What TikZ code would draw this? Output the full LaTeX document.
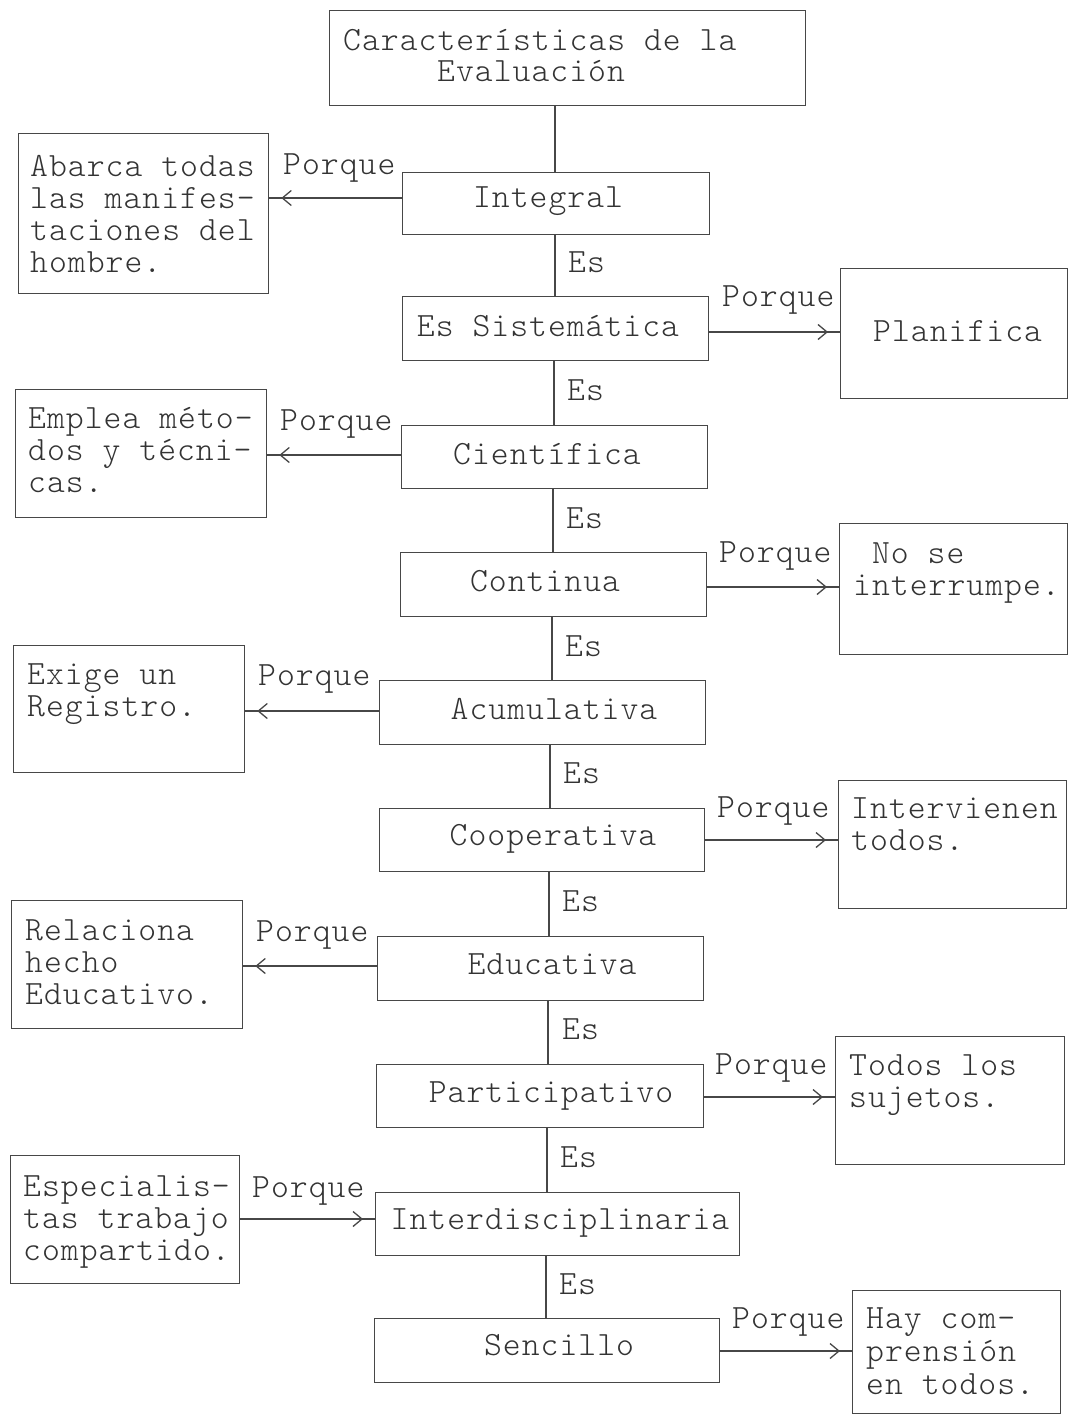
\documentclass[tikz,border=0pt]{standalone}
\usepackage{fontspec}
\newfontfamily\mono{lmmonolt10-regular.otf}[LetterSpace=3]
\usetikzlibrary{arrows.meta,decorations.markings}
\tikzset{
  box/.style={draw=black!72, line width=1.3pt, inner sep=0pt, anchor=north west},
  txt/.style={font=\mono\fontsize{34}{32}\selectfont, text=black!80, inner sep=0pt, anchor=base west},
  ctxt/.style={font=\mono\fontsize{34}{32}\selectfont, text=black!80, inner sep=0pt, anchor=base},
  link/.style={draw=black!72, line width=1.2pt},
  arr/.style={link, postaction={decorate},
    decoration={markings, mark=at position -12pt with {\arrow[black!72]{Straight Barb[length=9pt,width=15pt,line width=1.3pt]}}}}
}
\begin{document}
\begin{tikzpicture}[x=1pt,y=-1pt]
\useasboundingbox (0,0) rectangle (1068,1416);
\fill[white] (0,0) rectangle (1068,1416);

% ---------- title ----------
\node[box, minimum width=476pt, minimum height=95pt] (T) at (329,10) {};
\node[txt] (Ta) at (343,50) {Características de la};
\node[txt] (Tb) at (437,81) {Evaluación};

% ---------- central boxes ----------
\node[box, minimum width=307pt, minimum height=62pt] (C1) at (402,172) {};
\node[ctxt] (C1t) at (548,207) {Integral};
\node[box, minimum width=306pt, minimum height=64pt] (C2) at (402,296) {};
\node[ctxt] (C2t) at (548,336) {Es Sistemática};
\node[box, minimum width=306pt, minimum height=63pt] (C3) at (401,425) {};
\node[ctxt] (C3t) at (547,464) {Científica};
\node[box, minimum width=306pt, minimum height=64pt] (C4) at (400,552) {};
\node[ctxt] (C4t) at (545,591) {Continua};
\node[box, minimum width=326pt, minimum height=64pt] (C5) at (379,680) {};
\node[ctxt] (C5t) at (554,719) {Acumulativa};
\node[box, minimum width=325pt, minimum height=63pt] (C6) at (379,808) {};
\node[ctxt] (C6t) at (553,845) {Cooperativa};
\node[box, minimum width=326pt, minimum height=64pt] (C7) at (377,936) {};
\node[ctxt] (C7t) at (552,974) {Educativa};
\node[box, minimum width=327pt, minimum height=63pt] (C8) at (376,1064) {};
\node[ctxt] (C8t) at (551,1102) {Participativo};
\node[box, minimum width=364pt, minimum height=63pt] (C9) at (375,1192) {};
\node[ctxt] (C9t) at (560,1229) {Interdisciplinaria};
\node[box, minimum width=345pt, minimum height=64pt] (C10) at (374,1318) {};
\node[ctxt] (C10t) at (559,1355) {Sencillo};

% ---------- left boxes ----------
\node[box, minimum width=250pt, minimum height=160pt] (L1) at (18,133) {};
\node[txt] (L1a) at (30,176) {Abarca todas};
\node[txt] (L1b) at (30,208) {las manifes-};
\node[txt] (L1c) at (30,240) {taciones del};
\node[txt] (L1d) at (30,272) {hombre.};

\node[box, minimum width=251pt, minimum height=128pt] (L3) at (15,389) {};
\node[txt] (L3a) at (28,428) {Emplea méto-};
\node[txt] (L3b) at (28,460) {dos y técni-};
\node[txt] (L3c) at (28,492) {cas.};

\node[box, minimum width=231pt, minimum height=127pt] (L5) at (13,645) {};
\node[txt] (L5a) at (27,684) {Exige un};
\node[txt] (L5b) at (27,716) {Registro.};

\node[box, minimum width=231pt, minimum height=128pt] (L7) at (11,900) {};
\node[txt] (L7a) at (25,940) {Relaciona};
\node[txt] (L7b) at (25,972) {hecho};
\node[txt] (L7c) at (25,1004) {Educativo.};

\node[box, minimum width=229pt, minimum height=128pt] (L9) at (10,1155) {};
\node[txt] (L9a) at (23,1196) {Especialis-};
\node[txt] (L9b) at (23,1228) {tas trabajo};
\node[txt] (L9c) at (23,1260) {compartido.};

% ---------- right boxes ----------
\node[box, minimum width=227pt, minimum height=130pt] (R2) at (840,268) {};
\node[txt] (R2a) at (873,341) {Planifica};

\node[box, minimum width=228pt, minimum height=131pt] (R4) at (839,523) {};
\node[txt] (R4a) at (853,563) {\ No se};
\node[txt] (R4b) at (853,595) {interrumpe.};

\node[box, minimum width=228pt, minimum height=128pt] (R6) at (838,780) {};
\node[txt] (R6a) at (851,818) {Intervienen};
\node[txt] (R6b) at (851,850) {todos.};

\node[box, minimum width=229pt, minimum height=128pt] (R8) at (835,1036) {};
\node[txt] (R8a) at (849,1075) {Todos los};
\node[txt] (R8b) at (849,1107) {sujetos.};

\node[box, minimum width=208pt, minimum height=123pt] (R10) at (852,1290) {};
\node[txt] (R10a) at (866,1328) {Hay com-};
\node[txt] (R10b) at (866,1361) {prensión};
\node[txt] (R10c) at (866,1394) {en todos.};

% ---------- trunk ----------
\draw[link] (T.south -| 555,0) -- (C1.north -| 555,0);
\draw[link] (C1.south -| 555,0) -- (C2.north -| 555,0);
\draw[link] (C2.south -| 554,0) -- (C3.north -| 554,0);
\draw[link] (C3.south -| 553,0) -- (C4.north -| 553,0);
\draw[link] (C4.south -| 552,0) -- (C5.north -| 552,0);
\draw[link] (C5.south -| 550,0) -- (C6.north -| 550,0);
\draw[link] (C6.south -| 549,0) -- (C7.north -| 549,0);
\draw[link] (C7.south -| 548,0) -- (C8.north -| 548,0);
\draw[link] (C8.south -| 547,0) -- (C9.north -| 547,0);
\draw[link] (C9.south -| 546,0) -- (C10.north -| 546,0);

\node[txt] (E1) at (568,272) {Es};
\node[txt] (E2) at (567,400) {Es};
\node[txt] (E3) at (566,528) {Es};
\node[txt] (E4) at (565,656) {Es};
\node[txt] (E5) at (563,783) {Es};
\node[txt] (E6) at (562,911) {Es};
\node[txt] (E7) at (562,1039) {Es};
\node[txt] (E8) at (560,1167) {Es};
\node[txt] (E9) at (559,1294) {Es};

% ---------- side arrows ----------
\draw[arr] (C1.west |- 0,198) -- (L1.east |- 0,198);
\draw[arr] (C2.east |- 0,332) -- (R2.west |- 0,332);
\draw[arr] (C3.west |- 0,455) -- (L3.east |- 0,455);
\draw[arr] (C4.east |- 0,587) -- (R4.west |- 0,587);
\draw[arr] (C5.west |- 0,711) -- (L5.east |- 0,711);
\draw[arr] (C6.east |- 0,840) -- (R6.west |- 0,840);
\draw[arr] (C7.west |- 0,966) -- (L7.east |- 0,966);
\draw[arr] (C8.east |- 0,1097) -- (R8.west |- 0,1097);
\draw[arr] (L9.east |- 0,1219) -- (C9.west |- 0,1219);
\draw[arr] (C10.east |- 0,1351) -- (R10.west |- 0,1351);

\node[txt] (P1) at (283,174) {Porque};
\node[txt] (P2) at (722,306) {Porque};
\node[txt] (P3) at (280,430) {Porque};
\node[txt] (P4) at (719,562) {Porque};
\node[txt] (P5) at (258,685) {Porque};
\node[txt] (P6) at (717,817) {Porque};
\node[txt] (P7) at (256,941) {Porque};
\node[txt] (P8) at (715,1074) {Porque};
\node[txt] (P9) at (252,1197) {Porque};
\node[txt] (P10) at (732,1328) {Porque};
\end{tikzpicture}
\end{document}
